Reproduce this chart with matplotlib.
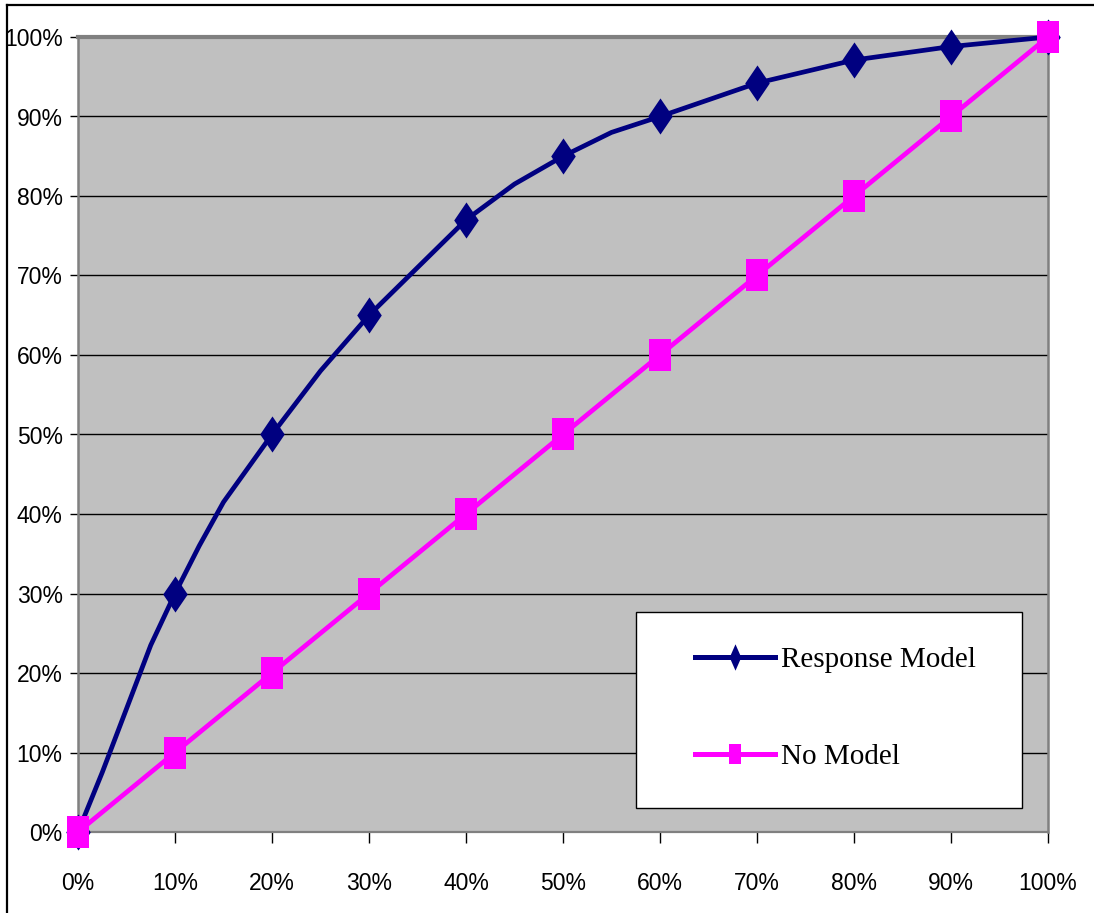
import matplotlib
matplotlib.use("Agg")
import matplotlib.pyplot as plt
from matplotlib.path import Path
from matplotlib.lines import Line2D
from matplotlib.patches import Rectangle
from matplotlib.ticker import PercentFormatter, MultipleLocator

# Cumulative share of responders captured vs. share of population contacted (%)
response_x = [0, 2.5, 5, 7.5, 10, 12.5, 15, 20, 25, 30, 35, 40, 45, 50, 55, 60, 70, 80, 90, 100]
response_y = [0, 7.5, 15.5, 23.5, 30, 36, 41.5, 50, 58, 65, 71, 77, 81.5, 85, 88, 90, 94.2, 97.1, 98.8, 100]

no_model_x = [0, 10, 20, 30, 40, 50, 60, 70, 80, 90, 100]
no_model_y = [0, 10, 20, 30, 40, 50, 60, 70, 80, 90, 100]

series_labels = ["Response Model", "No Model"]
tick_values = [0, 10, 20, 30, 40, 50, 60, 70, 80, 90, 100]

NAVY = "#000080"
MAGENTA = "#FF00FF"
PLOT_BG = "#C0C0C0"
EDGE_GRAY = "#808080"

W, H = 1094, 913
fig = plt.figure(figsize=(W / 100, H / 100), dpi=100)
fig.patch.set_facecolor("white")

# outer chart frame (top and left edges visible)
fig.add_artist(Line2D([7 / W, 1.0], [1 - 5 / H, 1 - 5 / H], transform=fig.transFigure,
                      color="black", lw=1.6))
fig.add_artist(Line2D([7 / W, 7 / W], [0.0, 1 - 5 / H], transform=fig.transFigure,
                      color="black", lw=1.6))

ax_l, ax_r, ax_t, ax_b = 78, 1048, 37, 832
ax = fig.add_axes([ax_l / W, 1 - ax_b / H, (ax_r - ax_l) / W, (ax_b - ax_t) / H])
ax.set_facecolor(PLOT_BG)
ax.set_xlim(0, 100)
ax.set_ylim(0, 100)

for side, lw in (("top", 3.0), ("left", 1.8), ("right", 1.8), ("bottom", 1.6)):
    ax.spines[side].set_color(EDGE_GRAY)
    ax.spines[side].set_linewidth(lw)

ax.xaxis.set_major_locator(MultipleLocator(10))
ax.yaxis.set_major_locator(MultipleLocator(10))
ax.xaxis.set_major_formatter(PercentFormatter(100, decimals=0))
ax.yaxis.set_major_formatter(PercentFormatter(100, decimals=0))
ax.set_xticks(tick_values)
ax.set_yticks(tick_values)

tick_font = ["Liberation Sans", "DejaVu Sans"]
ax.tick_params(axis="y", direction="out", length=6, width=1, color="black", pad=5,
               labelsize=16.5)
ax.tick_params(axis="x", direction="out", length=8, width=1, color="black", pad=20.5,
               labelsize=16.5)
for lab in ax.get_xticklabels() + ax.get_yticklabels():
    lab.set_family(tick_font)
    lab.set_color("black")

ax.set_axisbelow(True)
ax.yaxis.grid(True, color="black", linewidth=1.0)
ax.xaxis.grid(False)

# marker shapes: tall diamond and tall rectangle
diamond = Path([(0, 0.5), (0.34, 0), (0, -0.5), (-0.34, 0), (0, 0.5)],
               [Path.MOVETO, Path.LINETO, Path.LINETO, Path.LINETO, Path.CLOSEPOLY])
rect = Path([(-0.35, -0.5), (0.35, -0.5), (0.35, 0.5), (-0.35, 0.5), (-0.35, -0.5)],
            [Path.MOVETO, Path.LINETO, Path.LINETO, Path.LINETO, Path.CLOSEPOLY])

marker_idx = [i for i, xv in enumerate(response_x) if xv % 10 == 0]
ax.plot(response_x, response_y, color=NAVY, lw=3.4, marker=diamond, markersize=26,
        markevery=marker_idx, markerfacecolor=NAVY, markeredgewidth=0,
        clip_on=False, zorder=3, solid_joinstyle="round")
ax.plot(no_model_x, no_model_y, color=MAGENTA, lw=3.4, marker=rect, markersize=23,
        markerfacecolor=MAGENTA, markeredgewidth=0, clip_on=False, zorder=4)

# legend box
fig.add_artist(Rectangle((636 / W, 1 - 808 / H), (1022 - 636) / W, (808 - 612) / H,
                         transform=fig.transFigure, facecolor="white",
                         edgecolor="black", lw=1.0, zorder=5))

leg_diamond = Path([(0, 0.5), (0.22, 0), (0, -0.5), (-0.22, 0), (0, 0.5)],
                   [Path.MOVETO, Path.LINETO, Path.LINETO, Path.LINETO, Path.CLOSEPOLY])
leg_rect = Path([(-0.3, -0.5), (0.3, -0.5), (0.3, 0.5), (-0.3, 0.5), (-0.3, -0.5)],
                [Path.MOVETO, Path.LINETO, Path.LINETO, Path.LINETO, Path.CLOSEPOLY])
handles = [
    Line2D([], [], color=NAVY, lw=3.6, marker=leg_diamond, markersize=19,
           markerfacecolor=NAVY, markeredgewidth=0),
    Line2D([], [], color=MAGENTA, lw=3.6, marker=leg_rect, markersize=15,
           markerfacecolor=MAGENTA, markeredgewidth=0),
]
leg = fig.legend(handles, series_labels, loc="upper left",
                 bbox_to_anchor=(695 / W, 1 - 647 / H), bbox_transform=fig.transFigure,
                 frameon=False, borderpad=0, borderaxespad=0,
                 handlelength=80 / 29.2, handletextpad=0.2, labelspacing=2.42,
                 prop={"family": ["Liberation Serif", "DejaVu Serif"], "size": 21})
leg.set_zorder(6)

fig.savefig("out.png", dpi=100, facecolor="white")
